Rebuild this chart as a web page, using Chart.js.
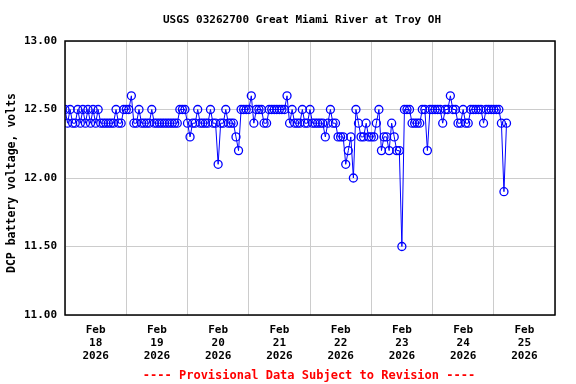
<!DOCTYPE html>
<html>
<head>
<meta charset="utf-8">
<script src="https://cdn.jsdelivr.net/npm/chart.js@4"></script>
<style>
  body { margin: 0; background: #fff; }
</style>
</head>
<body>
<canvas id="moncanvas" width="576" height="384"></canvas>
<script>
// hourly readings, one array per day, starting Feb 18 2026 00:00
const feb18 = [12.5,12.4,12.5,12.4,12.4,12.5,12.4,12.5,12.4,12.5,12.4,12.5,12.4,12.5,12.4,12.4,12.4,12.4,12.4,12.4,12.5,12.4,12.4,12.5];
const feb19 = [12.5,12.5,12.6,12.4,12.4,12.5,12.4,12.4,12.4,12.4,12.5,12.4,12.4,12.4,12.4,12.4,12.4,12.4,12.4,12.4,12.4,12.5,12.5,12.5];
const feb20 = [12.4,12.3,12.4,12.4,12.5,12.4,12.4,12.4,12.4,12.5,12.4,12.4,12.1,12.4,12.4,12.5,12.4,12.4,12.4,12.3,12.2,12.5,12.5,12.5];
const feb21 = [12.5,12.6,12.4,12.5,12.5,12.5,12.4,12.4,12.5,12.5,12.5,12.5,12.5,12.5,12.5,12.6,12.4,12.5,12.4,12.4,12.4,12.5,12.4,12.4];
const feb22 = [12.5,12.4,12.4,12.4,12.4,12.4,12.3,12.4,12.5,12.4,12.4,12.3,12.3,12.3,12.1,12.2,12.3,12.0,12.5,12.4,12.3,12.3,12.4,12.3];
const feb23 = [12.3,12.3,12.4,12.5,12.2,12.3,12.3,12.2,12.4,12.3,12.2,12.2,11.5,12.5,12.5,12.5,12.4,12.4,12.4,12.4,12.5,12.5,12.2,12.5];
const feb24 = [12.5,12.5,12.5,12.5,12.4,12.5,12.5,12.6,12.5,12.5,12.4,12.4,12.5,12.4,12.4,12.5,12.5,12.5,12.5,12.5,12.4,12.5,12.5,12.5];
const feb25 = [12.5,12.5,12.5,12.4,11.9,12.4];

const dayLabels = ['18','19','20','21','22','23','24','25'];
const yTicks = [11.0, 11.5, 12.0, 12.5, 13.0];

const volts = [].concat(feb18, feb19, feb20, feb21, feb22, feb23, feb24, feb25);
const points = volts.map((v, h) => ({ x: h, y: v }));

const FONT = 'DejaVu Sans Mono';

const extras = {
  id: 'extras',
  afterDraw(chart) {
    const ctx = chart.ctx;
    const a = chart.chartArea;
    ctx.save();
    ctx.strokeStyle = '#000';
    ctx.lineWidth = 1.5;
    ctx.strokeRect(a.left, a.top, a.right - a.left, a.bottom - a.top);
    ctx.fillStyle = '#000';
    ctx.font = 'bold 11px ' + FONT;
    ctx.textAlign = 'center';
    ctx.textBaseline = 'middle';
    ctx.fillText('USGS 03262700 Great Miami River at Troy OH', 302, 20);
    ctx.font = 'bold 12px ' + FONT;
    ctx.fillStyle = '#ff0000';
    ctx.fillText('---- Provisional Data Subject to Revision ----', 309, 376);
    ctx.fillStyle = '#000';
    ctx.font = 'bold 11.5px ' + FONT;
    ctx.translate(12, 183);
    ctx.rotate(-Math.PI / 2);
    ctx.fillText('DCP battery voltage, volts', 0, 0);
    ctx.restore();
  }
};

const data = {
  datasets: [{
    data: points,
    borderColor: 'rgb(0, 0, 255)',
    borderWidth: 1,
    pointRadius: 4,
    pointBorderWidth: 1.3,
    pointBorderColor: 'rgb(0, 0, 255)',
    pointBackgroundColor: 'rgba(0,0,0,0)',
    tension: 0
  }]
};

const config = {
  type: 'line',
  data: data,
  options: {
    responsive: false,
    animation: false,
    layout: { padding: { top: 41, right: 21, left: 0, bottom: 0 } },
    plugins: { legend: { display: false }, tooltip: { enabled: false } },
    scales: {
      x: {
        type: 'linear',
        min: 0,
        max: 192,
        afterBuildTicks: (s) => {
          const t = [];
          for (let i = 0; i <= 16; i++) t.push({ value: i * 12 });
          s.ticks = t;
        },
        afterFit: (s) => { s.height = 69; },
        border: { display: false },
        grid: {
          drawTicks: false,
          color: (c) => (c.tick && c.tick.value % 24 === 0) ? '#cccccc' : 'rgba(0,0,0,0)'
        },
        ticks: {
          autoSkip: false,
          maxRotation: 0,
          padding: 9,
          color: '#000',
          font: { family: FONT, size: 11, weight: 'bold', lineHeight: 1.18 },
          callback: (v) => {
            if (v % 24 !== 12) return '';
            return ['Feb', dayLabels[(v - 12) / 24], '2026'];
          }
        }
      },
      y: {
        min: 11,
        max: 13,
        afterBuildTicks: (s) => { s.ticks = yTicks.map(v => ({ value: v })); },
        afterFit: (s) => { s.width = 65; },
        border: { display: false },
        grid: { drawTicks: false, color: '#cccccc' },
        ticks: {
          padding: 8,
          color: '#000',
          font: { family: FONT, size: 11, weight: 'bold' },
          callback: (v) => v.toFixed(2)
        }
      }
    }
  },
  plugins: [extras]
};

const myChart = new Chart(document.querySelector('#moncanvas'), config);
</script>
</body>
</html>
